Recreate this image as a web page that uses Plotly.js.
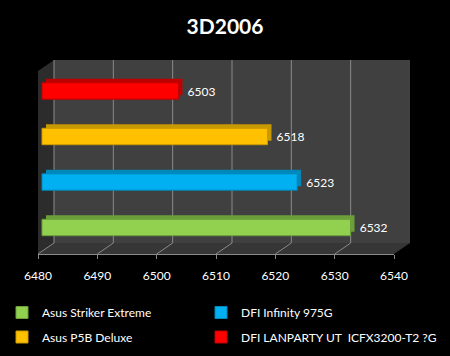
<!DOCTYPE html>
<html>
<head>
<meta charset="utf-8">
<script src="https://cdn.plot.ly/plotly-3.0.1.min.js"></script>
<style>html,body{margin:0;padding:0;background:#000;}#chart{width:450px;height:356px;}</style>
</head>
<body>
<div id="chart"></div>
<script>
// ---- data ----
const seriesNames = ['Asus Striker Extreme', 'DFI Infinity 975G', 'Asus P5B Deluxe', 'DFI LANPARTY UT\u00a0 ICFX3200-T2 ?G'];
const scores = [6532, 6523, 6518, 6503];
const faceColors = ['#92d050', '#00b0f0', '#ffc000', '#ff0000'];
const sideColors = ['#6c9f3a', '#0088bb', '#c99a00', '#bf0000'];
const tickValues = [6480, 6490, 6500, 6510, 6520, 6530, 6540];
const tickLabels = ['6480', '6490', '6500', '6510', '6520', '6530', '6540'];
const axisMin = 6480, axisMax = 6540;

// ---- geometry (pixels) ----
const W = 450, H = 356;
const L = 38, R = 394, T = 71, B = 254;
const DX = 16, DY = 11;
const pxPerX = (R - L) / (axisMax - axisMin);
const yMin = -0.5824, ySpan = (B - T) / 45.5;
const pxPerY = (B - T) / ySpan;
const px = x => (x - L) / (R - L);
const py = y => (B - y) / (B - T);

const frontShift = 4 / pxPerX, depthShift = 8 / pxPerX, depthUp = 4 / pxPerY;

// legend slots: [legend id, text-left px, centre y px]
const legendSlots = [['legend', 42, 312.5], ['legend2', 241, 312.5], ['legend3', 42, 337], ['legend4', 241, 337]];

const traces = [];
// depth (top / end faces)
seriesNames.forEach((n, i) => {
  traces.push({
    type: 'bar', orientation: 'h', xaxis: 'x2', yaxis: 'y',
    y: [n], x: [scores[i] - axisMin], base: axisMin, width: 0.36,
    marker: {color: sideColors[i], line: {width: 0}},
    showlegend: false, hoverinfo: 'skip'
  });
});
// front faces
seriesNames.forEach((n, i) => {
  traces.push({
    type: 'bar', orientation: 'h', xaxis: 'x3', yaxis: 'y2',
    name: n, legend: legendSlots[i][0],
    y: [n], x: [scores[i] - axisMin], base: axisMin, width: 0.36,
    text: ['\u00a0\u00a0' + scores[i]], textposition: 'outside', cliponaxis: false,
    textfont: {family: 'Lato', size: 12, color: '#ffffff'},
    marker: {color: faceColors[i], line: {color: sideColors[i], width: 1}},
    hovertemplate: n + ': ' + scores[i] + '<extra></extra>'
  });
});

const shapes = [];
// left wall
shapes.push({type: 'path', xref: 'paper', yref: 'paper', layer: 'below',
  path: `M${px(L)},${py(T)} L${px(L + DX)},${py(T - DY)} L${px(L + DX)},${py(B - DY)} L${px(L)},${py(B)} Z`,
  fillcolor: '#2c2c2c', line: {width: 0}});
// floor
shapes.push({type: 'path', xref: 'paper', yref: 'paper', layer: 'below',
  path: `M${px(L)},${py(B)} L${px(L + DX)},${py(B - DY)} L${px(R + DX)},${py(B - DY)} L${px(R)},${py(B)} Z`,
  fillcolor: '#363636', line: {width: 0}});
// back wall
shapes.push({type: 'rect', xref: 'paper', yref: 'paper', layer: 'below',
  x0: px(L + DX), x1: px(R + DX), y0: py(B - DY), y1: py(T - DY),
  fillcolor: '#404040', line: {width: 0}});
// back-wall gridlines and floor diagonals
tickValues.forEach(t => {
  shapes.push({type: 'line', xref: 'x', xsizemode: 'pixel', xanchor: t, x0: DX, x1: DX,
    yref: 'paper', y0: py(B - DY), y1: py(T - DY), layer: 'below',
    line: {color: '#8a8a8a', width: 1}});
  shapes.push({type: 'line', xref: 'x', xsizemode: 'pixel', xanchor: t, x0: 0, x1: DX,
    yref: 'paper', y0: py(B), y1: py(B - DY), layer: 'below',
    line: {color: '#8a8a8a', width: 1}});
});

const hiddenY = {showticklabels: false, showgrid: false, zeroline: false, ticks: '',
  type: 'category', categoryorder: 'array', categoryarray: seriesNames, fixedrange: true};

const layout = {
  width: W, height: H,
  paper_bgcolor: '#000000', plot_bgcolor: 'rgba(0,0,0,0)',
  margin: {l: L, r: W - R, t: T, b: H - B, pad: 0},
  barmode: 'overlay',
  title: {text: '3D2006', xref: 'container', x: 0.5, xanchor: 'center',
    yref: 'container', y: 1 - 26.5 / H, yanchor: 'middle',
    font: {family: 'Lato', size: 21, color: '#ffffff', weight: 'bold'}},
  xaxis: {range: [axisMin, axisMax], tickvals: tickValues, ticktext: tickLabels,
    showgrid: false, zeroline: false, showline: true, linecolor: '#8a8a8a', linewidth: 1,
    ticks: 'outside', ticklen: 4, tickcolor: '#8a8a8a', tickwidth: 1, ticklabelstandoff: 7,
    tickfont: {family: 'Lato', size: 12, color: '#ffffff'}, fixedrange: true},
  xaxis2: {overlaying: 'x', visible: false, range: [axisMin - depthShift, axisMax - depthShift]},
  xaxis3: {overlaying: 'x', visible: false, range: [axisMin - frontShift, axisMax - frontShift]},
  yaxis: Object.assign({range: [yMin - depthUp, yMin + ySpan - depthUp]}, hiddenY),
  yaxis2: Object.assign({overlaying: 'y', range: [yMin, yMin + ySpan]}, hiddenY),
  shapes: shapes,
  showlegend: true
};
legendSlots.forEach(([id, tx, cy]) => {
  layout[id] = {orientation: 'h', xref: 'container', yref: 'container',
    x: (tx - 40) / W, xanchor: 'left', y: 1 - cy / H, yanchor: 'middle',
    bgcolor: 'rgba(0,0,0,0)', borderwidth: 0,
    font: {family: 'Lato', size: 12, color: '#ffffff'}};
});

Plotly.newPlot('chart', traces, layout, {displayModeBar: false, staticPlot: true});
</script>
</body>
</html>
